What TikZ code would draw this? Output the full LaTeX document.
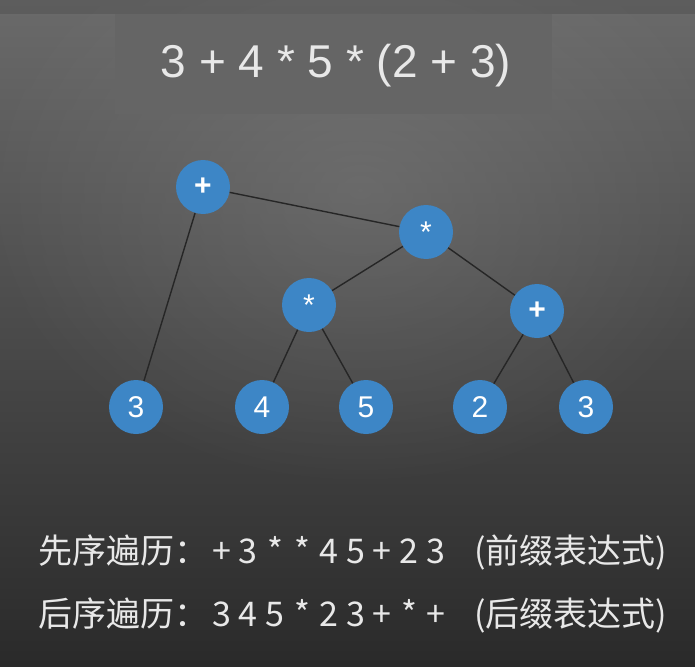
\documentclass[tikz,border=0pt]{standalone}
\usepackage{fontspec}
\setmainfont{Liberation Sans}
\newfontfamily\cjk{Noto Sans CJK SC}
\usetikzlibrary{fadings}
\definecolor{nodeblue}{HTML}{3D86C6}
\definecolor{edgecol}{HTML}{262626}
\definecolor{txtlight}{HTML}{E8E8E8}
\definecolor{bgtop}{HTML}{6A6A6A}
\definecolor{bgbot}{HTML}{2A2A2A}
\definecolor{titlebg}{HTML}{656565}
\tikzfading[name=glow, inner color=transparent!0, outer color=transparent!100]
\newcommand{\tk}[1]{\makebox[26.8pt][c]{#1}}
\begin{document}
\begin{tikzpicture}[x=1pt,y=-1pt,
  tnode/.style={circle, fill=nodeblue, minimum size=54pt, inner sep=0pt, text=white, font=\fontsize{30}{30}\selectfont},
  edge/.style={draw=edgecol, line width=1.4pt},
  bottomtxt/.style={anchor=base west, text=txtlight, inner sep=0pt, font=\cjk\fontsize{34}{34}\selectfont}]
\useasboundingbox (0,0) rectangle (695,666);
\shade[top color=bgtop, bottom color=bgbot] (0,0) rectangle (695,666);
\fill[gray!90, opacity=0.35, path fading=glow] (360,190) ellipse (380 and 300);
\fill[black!100, opacity=0.12] (0,0) rectangle (695,14);
\fill[titlebg] (115,14) rectangle (552,114);
\node[text=txtlight, font=\fontsize{46}{46}\selectfont, inner sep=0pt] (title) at (336,66) {3 + 4 * 5 * (2 + 3)};
% tree
\node[tnode] (root) at (203,187) {\textbf{+}};
\node[tnode] (m1) at (426,232) {*};
\node[tnode] (m2) at (309,305) {*};
\node[tnode] (p2) at (537,311) {\textbf{+}};
\node[tnode] (a) at (136,407) {3};
\node[tnode] (b) at (262,407) {4};
\node[tnode] (c) at (366,407) {5};
\node[tnode] (d) at (480,407) {2};
\node[tnode] (e) at (586,407) {3};
\draw[edge] (root) -- (a);
\draw[edge] (root) -- (m1);
\draw[edge] (m1) -- (m2);
\draw[edge] (m1) -- (p2);
\draw[edge] (m2) -- (b);
\draw[edge] (m2) -- (c);
\draw[edge] (p2) -- (d);
\draw[edge] (p2) -- (e);
% bottom text
\node[bottomtxt] (l1) at (38,563) {先序遍历：};
\node[bottomtxt] (e1) at (208,563) {\tk{+}\tk{3}\tk{*}\tk{*}\tk{4}\tk{5}\tk{+}\tk{2}\tk{3}};
\node[bottomtxt] (p1) at (474,563) {(前缀表达式)};
\node[bottomtxt] (l2) at (38,626) {后序遍历：};
\node[bottomtxt] (e2) at (208,626) {\tk{3}\tk{4}\tk{5}\tk{*}\tk{2}\tk{3}\tk{+}\tk{*}\tk{+}};
\node[bottomtxt] (p2t) at (474,626) {(后缀表达式)};
\end{tikzpicture}
\end{document}
